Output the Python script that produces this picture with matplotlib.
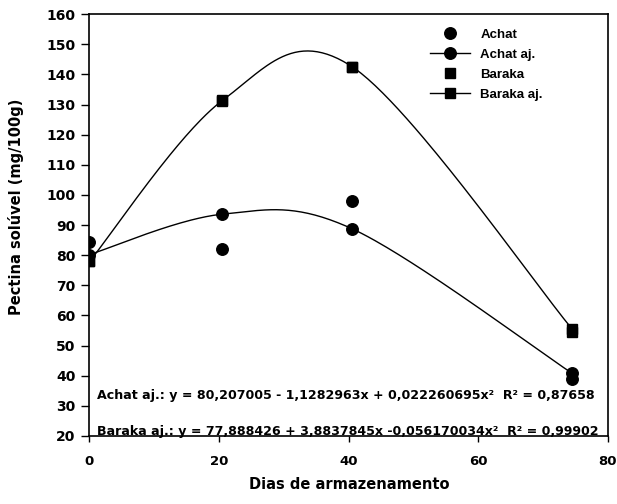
import numpy as np
import matplotlib
matplotlib.use("Agg")
import matplotlib.pyplot as plt
from matplotlib.lines import Line2D

plt.rcParams['font.family'] = ['Liberation Sans', 'DejaVu Sans']
plt.rcParams['font.weight'] = 'bold'

# Storage days and measured soluble pectin (mg/100g)
dias = [0, 20.5, 40.5, 74.5]
achat = [84.5, 82.0, 98.0, 39.0]
achat_aj = [80.2, 93.6, 88.8, 40.8]
baraka = [78.0, 131.5, 142.4, 54.5]
baraka_aj = [77.9, 131.3, 142.6, 55.5]

eq_achat = "Achat aj.: y = 80,207005 - 1,1282963x + 0,022260695x\u00b2  R\u00b2 = 0,87658"
eq_baraka = "Baraka aj.: y = 77,888426 + 3,8837845x -0,056170034x\u00b2  R\u00b2 = 0,99902"

x_ticks = [0, 20, 40, 60, 80]
y_ticks = list(range(20, 161, 10))

wide = ['DejaVu Sans']


def smooth_curve(xs, ys, n=60):
    """Piecewise cubic Bezier through the points (spreadsheet-style smoothing)."""
    p = np.column_stack([xs, ys]).astype(float)
    out = []
    m = len(p)
    for i in range(m - 1):
        p0 = p[max(i - 1, 0)]
        p1 = p[i]
        p2 = p[i + 1]
        p3 = p[min(i + 2, m - 1)]
        c1 = p1 + (p2 - p0) / 6.0
        c2 = p2 - (p3 - p1) / 6.0
        t = np.linspace(0, 1, n)[:, None]
        seg = ((1 - t) ** 3) * p1 + 3 * ((1 - t) ** 2) * t * c1 \
            + 3 * (1 - t) * t ** 2 * c2 + t ** 3 * p2
        out.append(seg if i == 0 else seg[1:])
    out = np.vstack(out)
    return out[:, 0], out[:, 1]


fig = plt.figure(figsize=(6.17, 5.04), dpi=100)
ax = fig.add_axes([0.145, 0.135, 0.840, 0.837])

lw = 1.0
ms_c = 8.3
ms_s = 7.0

ax.plot(*smooth_curve(dias, achat_aj), color='black', lw=lw, zorder=2)
ax.plot(*smooth_curve(dias, baraka_aj), color='black', lw=lw, zorder=2)
ax.plot(dias, achat_aj, 'o', color='black', ms=ms_c, zorder=3)
ax.plot(dias, baraka_aj, 's', color='black', ms=ms_s, zorder=3)
ax.plot(dias, achat, 'o', color='black', ms=ms_c, zorder=3)
ax.plot(dias, baraka, 's', color='black', ms=ms_s, zorder=3)

ax.set_xlim(0, 80)
ax.set_ylim(20, 160)
ax.set_xticks(x_ticks)
ax.set_yticks(y_ticks)
ax.tick_params(axis='y', direction='out', length=6, width=1.0, pad=4)
ax.tick_params(axis='x', direction='out', length=4, width=1.0, pad=10)
for lab in ax.get_yticklabels():
    lab.set_fontweight('bold')
    lab.set_family(wide)
    lab.set_fontsize(10)
for lab in ax.get_xticklabels():
    lab.set_fontweight('bold')
    lab.set_family(wide)
    lab.set_fontsize(9.5)
for s in ax.spines.values():
    s.set_linewidth(1.2)
    s.set_color('black')

fig.text(0.566, 0.038, "Dias de armazenamento", ha='center', va='center',
         fontsize=10.5, fontweight='bold', family=wide)
fig.text(0.026, 0.589, "Pectina sol\u00favel (mg/100g)", ha='center', va='center',
         rotation=90, fontsize=10.5, fontweight='bold', family=wide)

ax.text(1.2, 33.5, eq_achat, fontsize=9.1, fontweight='bold', va='center', ha='left',
        family=wide)
ax.text(1.2, 21.6, eq_baraka, fontsize=9.1, fontweight='bold', va='center', ha='left',
        family=wide)

handles = [
    Line2D([], [], ls='none', marker='o', color='black', ms=ms_c),
    Line2D([], [], ls='-', lw=lw, marker='o', color='black', ms=ms_c),
    Line2D([], [], ls='none', marker='s', color='black', ms=ms_s),
    Line2D([], [], ls='-', lw=lw, marker='s', color='black', ms=ms_s),
]
labels = ["Achat", "Achat aj.", "Baraka", "Baraka aj."]
leg = ax.legend(handles, labels, loc='upper right', bbox_to_anchor=(0.89, 0.985),
                frameon=False, fontsize=9.5, handlelength=3.0, handletextpad=0.8,
                labelspacing=0.6, borderaxespad=0.2)
for t in leg.get_texts():
    t.set_fontweight('bold')

fig.savefig("out.png", dpi=100)
